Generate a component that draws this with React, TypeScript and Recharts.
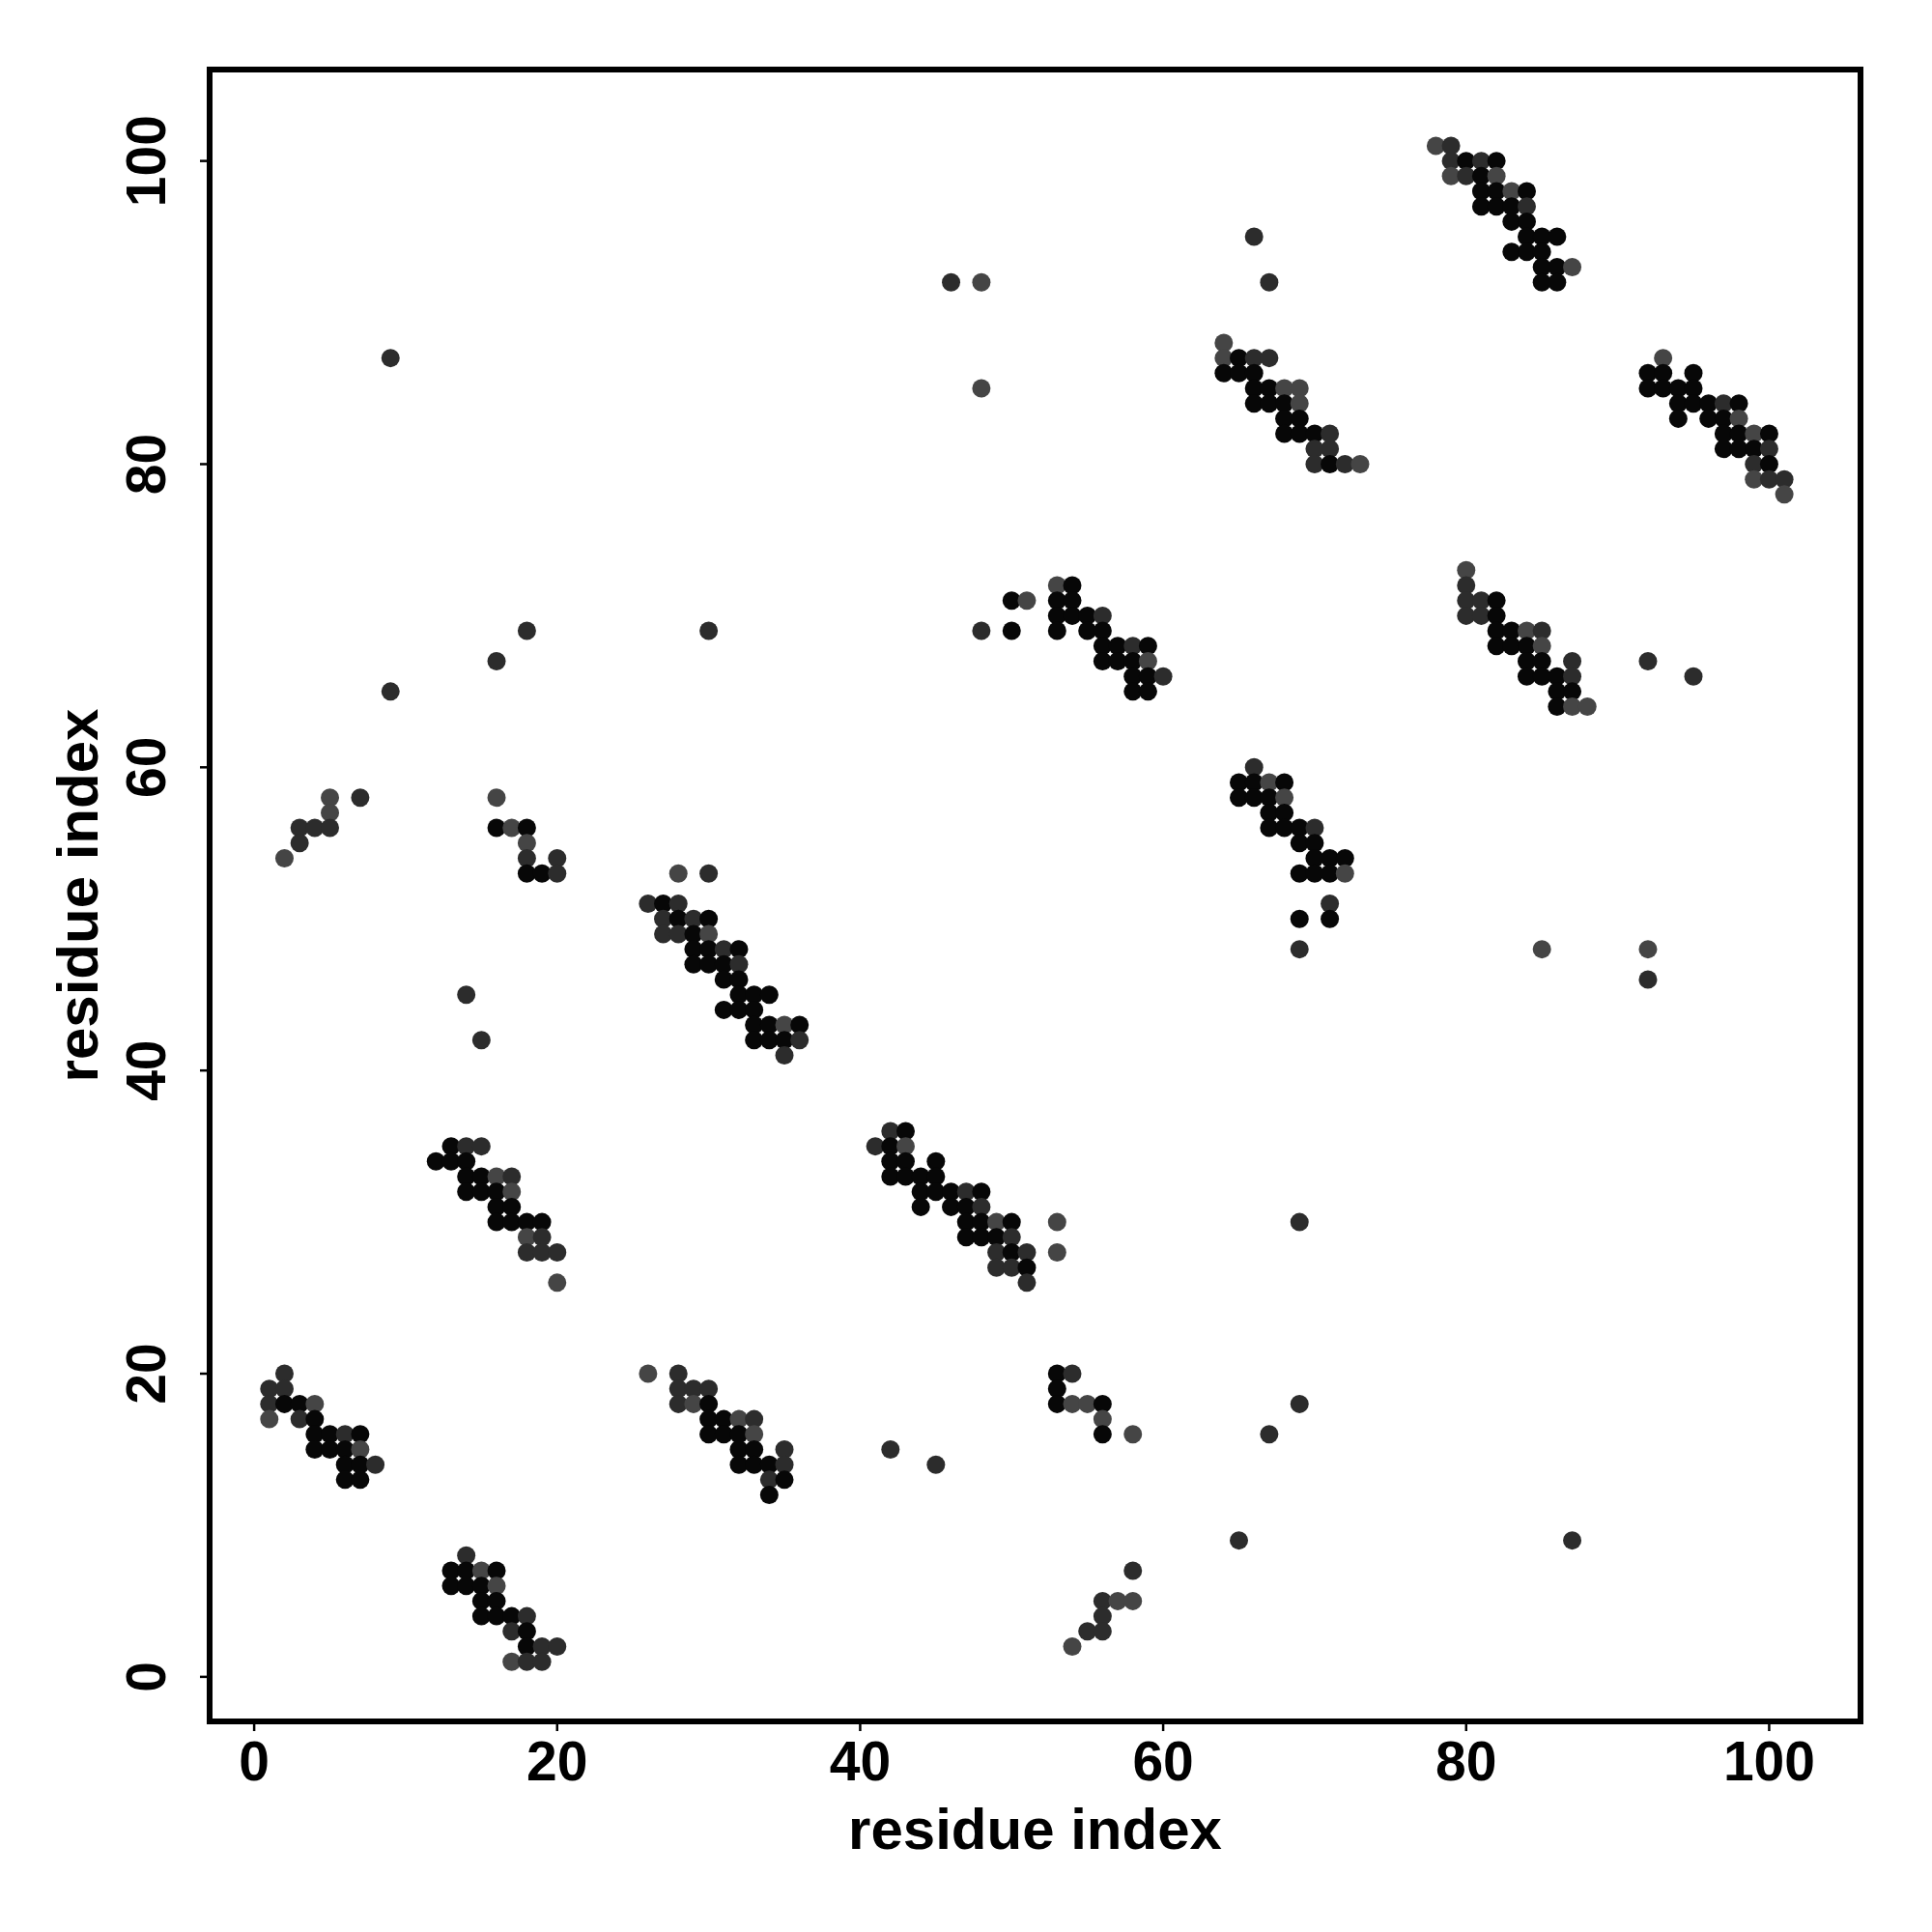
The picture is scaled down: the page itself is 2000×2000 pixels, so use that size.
import React from 'react';
import { ScatterChart, Scatter, XAxis, YAxis, ReferenceArea } from 'recharts';

const FONT = '"Liberation Sans", Arial, Helvetica, sans-serif';
const SHADES = ['#070707', '#2c2c2c', '#454545'];

const AX_MIN = -2.94;
const AX_MAX = 106.03;
const X_TICKS = [0, 20, 40, 60, 80, 100];
const Y_TICKS = [0, 20, 40, 60, 80, 100];

// [x, y, shade]
const clusterA = [[2,20,1],[1,19,1],[2,19,1],[1,18,1],[2,18,0],[3,18,0],[4,18,2],[1,17,2],[3,17,1],[4,17,0],[4,16,0],[5,16,0],[6,16,1],[7,16,0],[4,15,0],[5,15,0],[6,15,0],[7,15,2],[6,14,0],[7,14,0],[8,14,1],[6,13,0],[7,13,0]];
const clusterB = [[14,8,1],[13,7,0],[14,7,0],[15,7,2],[16,7,0],[13,6,0],[14,6,0],[15,6,0],[16,6,2],[15,5,0],[16,5,0],[15,4,0],[16,4,0],[17,4,0],[18,4,1],[17,3,1],[18,3,0],[18,2,0],[19,2,1],[20,2,1],[17,1,2],[18,1,1],[19,1,1]];
const clusterC = [[13,35,0],[14,35,1],[15,35,1],[12,34,0],[13,34,0],[14,34,0],[14,33,0],[15,33,0],[16,33,2],[17,33,1],[14,32,0],[15,32,0],[16,32,0],[17,32,2],[16,31,0],[17,31,0],[16,30,0],[17,30,0],[18,30,0],[19,30,0],[18,29,2],[19,29,1],[18,28,1],[19,28,1],[20,28,1],[20,26,2]];
const clusterL1 = [[5,58,2],[7,58,1],[5,57,2],[3,56,1],[4,56,1],[5,56,1],[3,55,1],[2,54,2]];
const clusterL2 = [[16,58,2],[16,56,0],[17,56,2],[18,56,0],[18,55,2],[18,54,1],[20,54,1],[18,53,0],[19,53,0],[20,53,1]];
const clusterD = [[28,53,2],[30,53,1],[26,51,1],[27,51,0],[28,51,1],[27,50,1],[28,50,0],[29,50,1],[30,50,0],[27,49,1],[28,49,1],[29,49,0],[30,49,2],[29,48,0],[30,48,0],[31,48,1],[32,48,0],[29,47,0],[30,47,0],[31,47,0],[32,47,1],[31,46,0],[32,46,0],[32,45,0],[33,45,0],[34,45,0],[31,44,0],[32,44,0],[33,44,0],[33,43,0],[34,43,0],[35,43,2],[36,43,0],[33,42,0],[34,42,0],[35,42,0],[36,42,1],[35,41,1]];
const clusterE = [[42,36,1],[43,36,0],[41,35,1],[42,35,0],[43,35,2],[42,34,0],[43,34,0],[45,34,0],[42,33,0],[43,33,0],[44,33,0],[45,33,0],[44,32,0],[45,32,0],[46,32,0],[47,32,1],[48,32,0],[44,31,0],[46,31,0],[47,31,0],[48,31,1],[47,30,0],[48,30,0],[49,30,2],[50,30,0],[47,29,0],[48,29,0],[49,29,0],[50,29,1],[49,28,1],[50,28,0],[51,28,1],[49,27,1],[50,27,1],[51,27,0],[51,26,1]];
const clusterF = [[28,20,1],[28,19,1],[29,19,1],[30,19,1],[28,18,1],[29,18,2],[30,18,0],[30,17,0],[31,17,0],[32,17,2],[33,17,1],[30,16,0],[31,16,0],[32,16,0],[33,16,2],[32,15,0],[33,15,0],[35,15,1],[32,14,0],[33,14,0],[34,14,0],[35,14,1],[34,13,1],[35,13,0],[34,12,0]];
const clusterG = [[53,20,0],[54,20,1],[53,19,0],[53,18,0],[54,18,2],[55,18,2],[56,18,0],[56,17,2],[56,16,0],[58,16,2]];
const clusterH = [[58,7,1],[56,5,1],[57,5,2],[58,5,2],[56,4,1],[55,3,1],[56,3,1],[54,2,2]];
const clusterI = [[53,72,2],[54,72,0],[50,71,0],[51,71,2],[53,71,0],[54,71,0],[53,70,0],[54,70,0],[55,70,0],[56,70,1],[50,69,0],[53,69,0],[55,69,0],[56,69,0],[56,68,0],[57,68,0],[58,68,1],[59,68,0],[56,67,0],[57,67,0],[58,67,0],[59,67,2],[58,66,0],[59,66,0],[60,66,1],[58,65,0],[59,65,0]];
const clusterJ = [[66,60,1],[65,59,0],[66,59,0],[67,59,2],[68,59,0],[65,58,0],[66,58,0],[67,58,0],[68,58,2],[67,57,0],[68,57,0],[67,56,0],[68,56,0],[69,56,0],[70,56,1],[69,55,0],[70,55,0],[70,54,0],[71,54,0],[72,54,0],[69,53,0],[70,53,0],[71,53,0],[72,53,2],[71,51,1],[69,50,0],[71,50,0]];
const clusterK = [[80,73,2],[80,72,1],[80,71,1],[81,71,1],[82,71,0],[80,70,1],[81,70,1],[82,70,0],[82,69,0],[83,69,0],[84,69,2],[85,69,1],[82,68,0],[83,68,0],[84,68,0],[85,68,2],[84,67,0],[85,67,0],[87,67,1],[84,66,0],[85,66,0],[86,66,0],[87,66,1],[86,65,0],[87,65,0],[86,64,0],[87,64,2],[88,64,2]];
const clusterM = [[64,88,2],[64,87,2],[65,87,0],[66,87,1],[67,87,1],[64,86,0],[65,86,0],[66,86,0],[66,85,0],[67,85,0],[68,85,2],[69,85,2],[66,84,0],[67,84,0],[68,84,0],[69,84,2],[68,83,0],[69,83,0],[68,82,0],[69,82,0],[70,82,0],[71,82,1],[70,81,1],[71,81,1],[70,80,1],[71,80,0],[72,80,1],[73,80,2]];
const clusterN = [[93,87,2],[92,86,0],[93,86,0],[95,86,0],[92,85,0],[93,85,0],[94,85,0],[95,85,0],[94,84,0],[95,84,0],[96,84,0],[97,84,1],[98,84,0],[94,83,0],[96,83,0],[97,83,0],[98,83,2],[97,82,0],[98,82,0],[99,82,2],[100,82,0],[97,81,0],[98,81,0],[99,81,0],[100,81,1],[99,80,1],[100,80,0],[99,79,2],[100,79,1],[101,79,1],[101,78,2]];
const clusterP = [[78,101,2],[79,101,1],[79,100,1],[80,100,0],[81,100,1],[82,100,0],[79,99,2],[80,99,1],[81,99,0],[82,99,2],[81,98,0],[82,98,0],[83,98,2],[84,98,0],[81,97,0],[82,97,0],[83,97,0],[84,97,1],[83,96,0],[84,96,0],[84,95,0],[85,95,0],[86,95,0],[83,94,0],[84,94,0],[85,94,0],[85,93,0],[86,93,0],[87,93,2],[85,92,0],[86,92,0]];
const isolated = [[9,87,1],[9,65,1],[18,69,1],[16,67,1],[14,45,1],[15,42,1],[30,69,1],[26,20,2],[42,15,1],[45,14,1],[46,92,1],[48,92,2],[48,85,2],[48,69,1],[53,30,2],[53,28,2],[67,16,1],[65,9,1],[87,9,1],[69,18,1],[69,30,1],[69,48,1],[85,48,2],[92,48,2],[92,46,1],[92,67,1],[95,66,1],[66,95,1],[67,92,1]];

const groups = [clusterA, clusterB, clusterC, clusterL1, clusterL2, clusterD, clusterE, clusterF, clusterG, clusterH, clusterI, clusterJ, clusterK, clusterM, clusterN, clusterP, isolated];

const toData = (arr: number[][]) => arr.map(([x, y, s]) => ({ x, y, s }));

const Dot = (props: any) => {
  const { cx, cy, payload } = props;
  if (cx == null || cy == null) return null;
  return <circle cx={cx} cy={cy} r={9.5} fill={SHADES[payload.s]} />;
};

const XTick = (props: any) => {
  const { x, payload } = props;
  return (
    <text x={x} y={1843} textAnchor="middle" fontFamily={FONT} fontWeight={700} fontSize={57} fill="#000">
      {payload.value}
    </text>
  );
};

const YTick = (props: any) => {
  const { y, payload } = props;
  return (
    <text transform={`translate(171, ${y}) rotate(-90)`} textAnchor="middle" fontFamily={FONT} fontWeight={700} fontSize={57} fill="#000">
      {payload.value}
    </text>
  );
};

const XTitle = () => (
  <text x={1071.5} y={1914} textAnchor="middle" fontFamily={FONT} fontWeight={700} fontSize={60} fill="#000">
    residue index
  </text>
);

const YTitle = () => (
  <text transform="translate(101, 927) rotate(-90)" textAnchor="middle" fontFamily={FONT} fontWeight={700} fontSize={60} fill="#000">
    residue index
  </text>
);

export default function App() {
  return (
    <div style={{ position: 'absolute', left: 0, top: 0, width: 2000, height: 2000, background: '#fff' }}>
      <ScatterChart width={2000} height={2000} margin={{ top: 72, right: 74, bottom: 0, left: 0 }}>
        <XAxis
          dataKey="x"
          type="number"
          domain={[AX_MIN, AX_MAX]}
          allowDataOverflow
          ticks={X_TICKS}
          interval={0}
          tick={<XTick />}
          tickSize={10}
          tickLine={{ stroke: '#000', strokeWidth: 2.5 }}
          axisLine={false}
          height={218}
          label={<XTitle />}
        />
        <YAxis
          dataKey="y"
          type="number"
          domain={[AX_MIN, AX_MAX]}
          allowDataOverflow
          ticks={Y_TICKS}
          interval={0}
          tick={<YTick />}
          tickSize={10}
          tickLine={{ stroke: '#000', strokeWidth: 2.5 }}
          axisLine={false}
          width={217}
          label={<YTitle />}
        />
        {groups.map((g, i) => (
          <Scatter key={i} data={toData(g)} shape={Dot} isAnimationActive={false} />
        ))}
        <ReferenceArea
          x1={AX_MIN}
          x2={AX_MAX}
          y1={AX_MIN}
          y2={AX_MAX}
          ifOverflow="visible"
          fill="none"
          fillOpacity={0}
          stroke="#000"
          strokeWidth={6}
        />
      </ScatterChart>
    </div>
  );
}
